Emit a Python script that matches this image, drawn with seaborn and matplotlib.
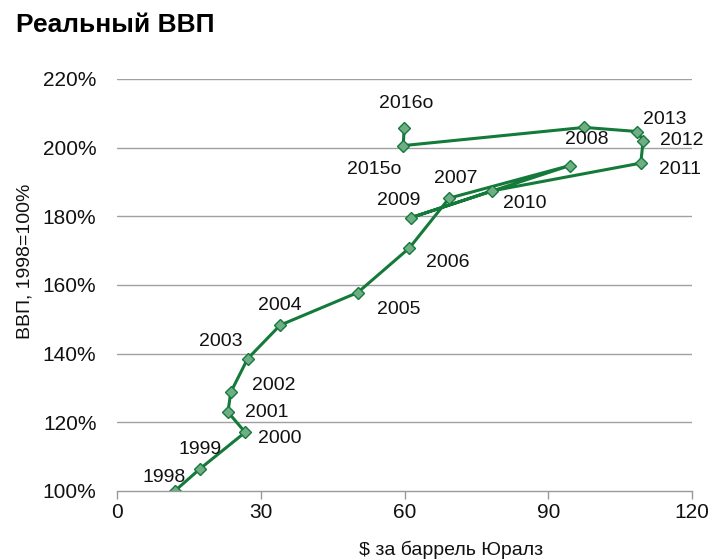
import matplotlib
matplotlib.use("Agg")
import matplotlib.pyplot as plt
import seaborn as sns
import pandas as pd

years = ["1998", "1999", "2000", "2001", "2002", "2003", "2004", "2005", "2006",
         "2007", "2008", "2009", "2010", "2011", "2012", "2013", "", "2015o", "2016o"]
urals = [12.0, 17.3, 26.7, 23.1, 23.7, 27.2, 34.0, 50.2, 61.0,
         69.3, 94.5, 61.3, 78.2, 109.3, 109.8, 108.6, 97.5, 59.7, 59.9]
gdp = [100.0, 106.5, 117.1, 123.0, 128.8, 138.5, 148.3, 157.8, 170.8,
       185.3, 194.8, 179.6, 187.4, 195.5, 202.0, 204.7, 205.9, 200.6, 205.6]
x_ticks = [0, 30, 60, 90, 120]
y_ticks = [100, 120, 140, 160, 180, 200, 220]

# label offsets in pixels (dx, dy)
offsets = [(-11, 14), (0, 19), (35, -6), (39, 0), (43, 7), (-27, 17), (0, 20),
           (41, -17), (38, -15), (7, 20), (17, 26), (-12, 17), (33, -13),
           (39, -6), (39, 0), (27, 12), (0, 0), (-29, -24), (2, 25)]

sns.set_theme(style="white")
plt.rcParams['font.family'] = ['Liberation Sans', 'DejaVu Sans']

fig = plt.figure(figsize=(7.12, 5.59), dpi=100)
ax = fig.add_axes([117.3 / 712, 1 - 491 / 559, (692 - 117.3) / 712, (491 - 79) / 559])

df = pd.DataFrame({"urals": urals, "gdp": gdp})
green = "#137a3a"
sns.lineplot(data=df, x="urals", y="gdp", sort=False, ax=ax, color=green,
             linewidth=2.2, marker="D", markersize=6.5,
             markerfacecolor="#6fae84", markeredgecolor=green, markeredgewidth=1.0)

for yr, xv, yv, (dx, dy) in zip(years, urals, gdp, offsets):
    if yr:
        ax.annotate(yr, (xv, yv), xytext=(dx, dy), textcoords="offset pixels",
                    ha="center", va="center", fontsize=14, color="#111111")

ax.set_xlim(0, 120)
ax.set_ylim(100, 220)
ax.set_xticks(x_ticks)
ax.set_yticks(y_ticks)
ax.set_yticklabels([f"{v}%" for v in y_ticks])
ax.tick_params(axis="both", labelsize=15, colors="#111111")
ax.tick_params(axis="x", length=6, width=1, color="#999999", direction="out", bottom=True, pad=3)
ax.tick_params(axis="y", length=0, pad=15)
for v in y_ticks[1:]:
    ax.axhline(v, color="#a0a0a0", linewidth=1.0, zorder=0)
for s in ["left", "right", "top"]:
    ax.spines[s].set_visible(False)
ax.spines["bottom"].set_color("#999999")
ax.spines["bottom"].set_linewidth(1.0)
ax.grid(False)

ax.set_xlabel("$ за баррель Юралз", fontsize=14, color="#111111", va="center")
ax.set_ylabel("ВВП, 1998=100%", fontsize=14, color="#111111", va="center")
ax.xaxis.set_label_coords(0.581, -0.143)
ax.yaxis.set_label_coords(-0.161, 0.558)

fig.text(16 / 712, 1 - 25 / 559, "Реальный ВВП", fontsize=19, fontweight="bold",
         ha="left", va="center", color="#000000")

fig.savefig("out.png", dpi=100)
